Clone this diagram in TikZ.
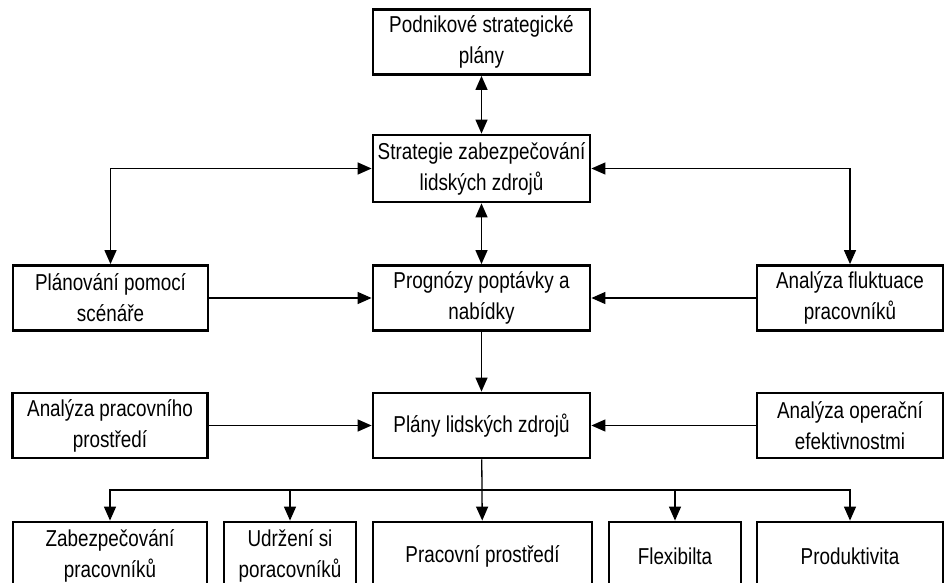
\documentclass[tikz,border=0pt]{standalone}
\usepackage{fontspec}
\setmainfont[FakeStretch=0.82]{Liberation Sans}
\usepackage{tikz}
\usetikzlibrary{arrows.meta, positioning}

\begin{document}
\begin{tikzpicture}
  [
    x=1pt, y=-1pt,
    Box/.style={rectangle, draw=black, line width=2.8pt, align=center,
      inner sep=0pt, font=\fontsize{23}{31}\selectfont, minimum height=65pt},
    Wide/.style={Box, minimum width=217pt},
    Side/.style={Box, minimum width=195pt},
    Edge/.style={Box, minimum width=186pt},
    Low/.style={Box, minimum height=68pt},
    Line/.style={line width=1.3pt, >={Triangle[length=14pt, width=12pt]}}
  ]
  \clip (0,0) rectangle (945,583);

  % Nodes
  \node[Wide] (podnik) at(481.5, 42) {Podnikové strategické\\plány};
  \node[Wide, minimum height=67pt] (strat) at(481.5, 168.5) {Strategie zabezpečování\\lidských zdrojů};

  \node[Side] (scenar) at(110.5, 298) {Plánování pomocí\\scénáře};
  \node[Wide] (prog) at(481.5, 298) {Prognózy poptávky a\\nabídky};
  \node[Edge] (fluk) at(850, 298) {Analýza fluktuace\\pracovníků};

  \node[Side] (prostr) at(110, 425.5) {Analýza pracovního\\prostředí};
  \node[Wide] (plany) at(481.5, 425.5) {Plány lidských zdrojů};
  \node[Edge] (oper) at(850, 425.5) {Analýza operační\\efektivnostmi};

  \node[Low, minimum width=194pt] (zabez) at(110, 556) {Zabezpečování\\pracovníků};
  \node[Low, minimum width=132pt] (udrz) at(290, 556) {Udržení si\\poracovníků};
  \node[Low, minimum width=219pt] (prac) at(482.5, 556) {Pracovní prostředí};
  \node[Low, minimum width=132pt] (flex) at(675, 556) {Flexibilta};
  \node[Low, minimum width=186pt] (produkt) at(850, 556) {Produktivita};

  \coordinate (bus) at(0, 490);

  % Lines
  \path [<->, draw, Line] (podnik) -- (strat);
  \path [<->, draw, Line] (strat.west) -| (scenar.north);
  \path [<->, draw, Line] (strat.east) -| (fluk.north);
  \path [<->, draw, Line] (strat) -- (prog);
  \path [->, draw, Line] (scenar) -- (prog);
  \path [->, draw, Line] (fluk) -- (prog);
  \path [->, draw, Line] (prog) -- (plany);
  \path [->, draw, Line] (prostr) -- (plany);
  \path [->, draw, Line] (oper) -- (plany);

  \path [->, draw, Line] (plany) -- (prac);
  \path [->, draw, Line] (plany.south |- bus) -| (zabez.north);
  \path [->, draw, Line] (plany.south |- bus) -| (udrz.north);
  \path [->, draw, Line] (plany.south |- bus) -| (flex.north);
  \path [->, draw, Line] (plany.south |- bus) -| (produkt.north);

\end{tikzpicture}
\end{document}
